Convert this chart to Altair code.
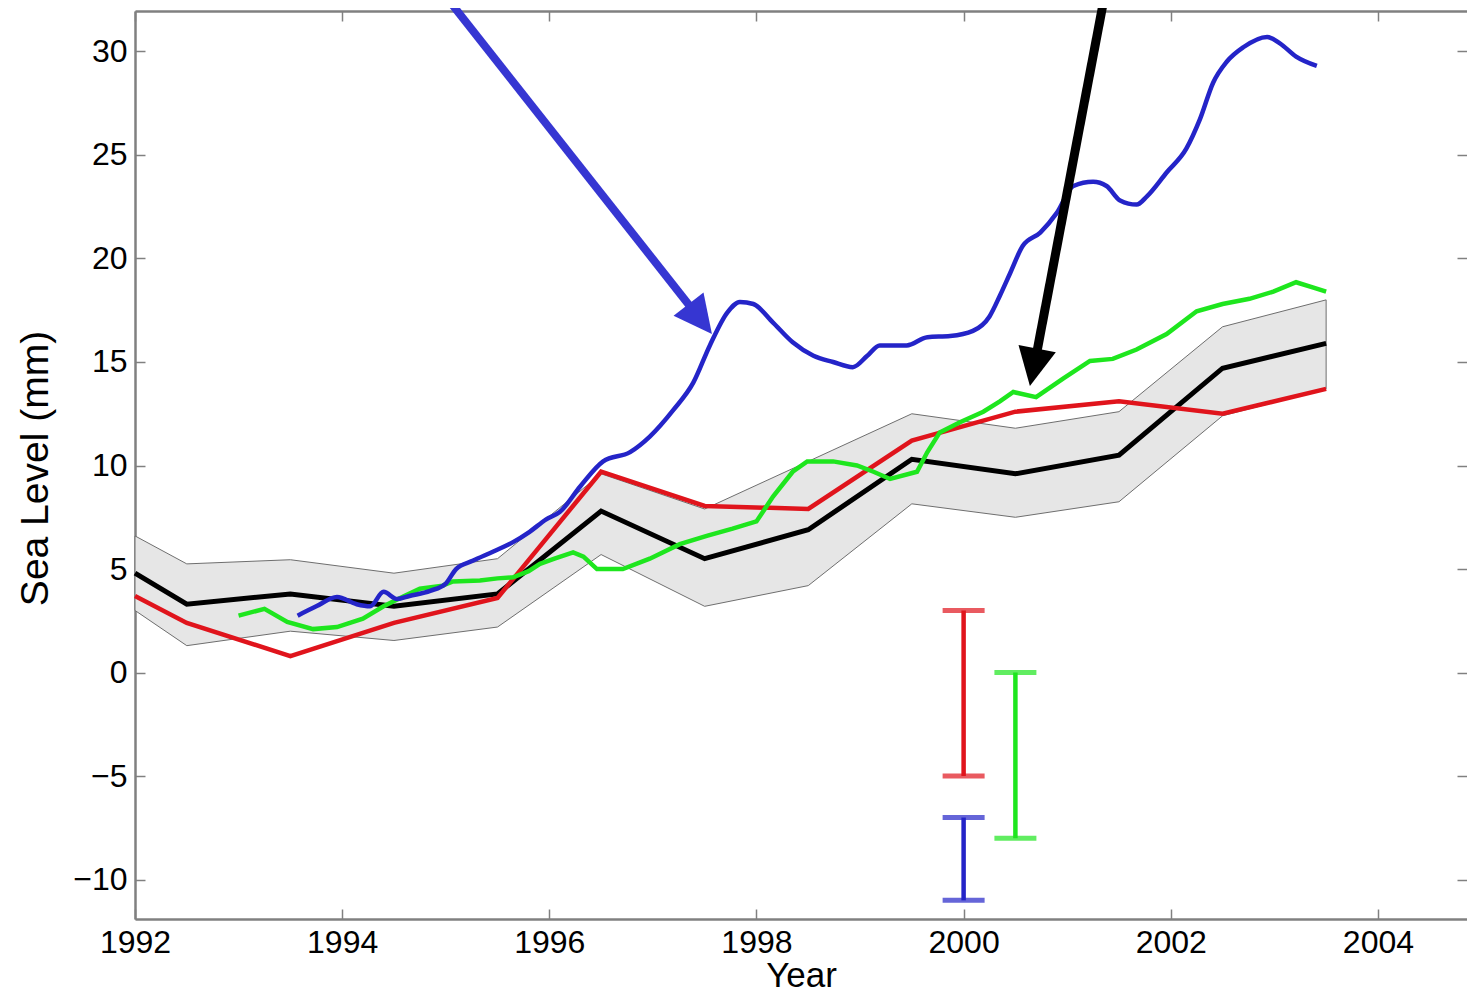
import altair as alt
import pandas as pd

# ---------------- data ----------------
band_years = [1992.0, 1992.5, 1993.5, 1994.5, 1995.5, 1996.5, 1997.5,
              1998.5, 1999.5, 2000.5, 2001.5, 2002.5, 2003.5]
black_values = [4.8, 3.3, 3.8, 3.2, 3.8, 7.8, 5.5, 6.9, 10.3, 9.6, 10.5, 14.7, 15.9]
band_upper = [6.6, 5.25, 5.45, 4.8, 5.5, 9.6, 7.9, 10.2, 12.5, 11.8, 12.6, 16.7, 18.0]
band_lower = [3.0, 1.3, 2.0, 1.55, 2.2, 5.7, 3.2, 4.2, 8.15, 7.5, 8.25, 12.4, 13.7]
red_values = [3.7, 2.4, 0.8, 2.4, 3.6, 9.7, 8.05, 7.9, 11.2, 12.6, 13.1, 12.5, 13.7]

green_years = [1993.0, 1993.25, 1993.47, 1993.72, 1993.95, 1994.2, 1994.4, 1994.6,
               1994.75, 1994.97, 1995.07, 1995.33, 1995.5, 1995.65, 1995.8, 1995.91,
               1996.05, 1996.23, 1996.33, 1996.46, 1996.71, 1996.97, 1997.26, 1997.52,
               1997.77, 1998.0, 1998.16, 1998.35, 1998.49, 1998.74, 1998.97, 1999.13,
               1999.29, 1999.55, 1999.65, 1999.77, 1999.97, 2000.19, 2000.35, 2000.48,
               2000.7, 2000.96, 2001.22, 2001.44, 2001.67, 2001.96, 2002.25, 2002.5,
               2002.76, 2002.99, 2003.21, 2003.37, 2003.5]
green_values = [2.75, 3.08, 2.45, 2.1, 2.2, 2.6, 3.2, 3.7,
                4.05, 4.2, 4.4, 4.45, 4.55, 4.6, 4.9, 5.25,
                5.5, 5.8, 5.6, 5.0, 5.0, 5.5, 6.2, 6.6,
                6.95, 7.3, 8.5, 9.7, 10.2, 10.2, 10.0, 9.7,
                9.35, 9.7, 10.65, 11.6, 12.1, 12.6, 13.1, 13.55,
                13.3, 14.2, 15.05, 15.15, 15.6, 16.35, 17.45, 17.8,
                18.05, 18.4, 18.85, 18.6, 18.4]

blue_years = [1993.57, 1993.75, 1993.95, 1994.14, 1994.27, 1994.4, 1994.53, 1994.65,
              1994.85, 1995.0, 1995.1, 1995.26, 1995.46, 1995.65, 1995.81, 1995.97,
              1996.1, 1996.3, 1996.52, 1996.78, 1996.97, 1997.2, 1997.39, 1997.55,
              1997.72, 1997.84, 1997.97, 1998.16, 1998.35, 1998.55, 1998.74, 1998.93,
              1999.07, 1999.19, 1999.45, 1999.65, 1999.87, 2000.09, 2000.25, 2000.35,
              2000.45, 2000.57, 2000.74, 2000.9, 2001.06, 2001.25, 2001.38, 2001.51,
              2001.67, 2001.77, 2001.96, 2002.15, 2002.28, 2002.41, 2002.54, 2002.7,
              2002.93, 2003.05, 2003.21, 2003.41]
blue_values = [2.75, 3.2, 3.65, 3.3, 3.2, 3.9, 3.55, 3.7,
               3.95, 4.3, 5.0, 5.4, 5.85, 6.3, 6.8, 7.4,
               7.75, 9.0, 10.2, 10.65, 11.4, 12.7, 14.0, 15.8,
               17.4, 17.9, 17.8, 16.9, 15.95, 15.3, 15.0, 14.75,
               15.3, 15.8, 15.8, 16.2, 16.25, 16.5, 17.2, 18.2,
               19.3, 20.6, 21.25, 22.2, 23.5, 23.7, 23.5, 22.8,
               22.6, 23.0, 24.15, 25.3, 26.7, 28.5, 29.5, 30.2,
               30.7, 30.4, 29.75, 29.3]

err_years = [2000.0, 2000.5, 2000.0]
err_low = [-5, -8, -11]
err_high = [3, 0, -7]
err_colors = ["#e0141c", "#1ee61e", "#2424c8"]

arrow_x_start = [1995.02, 2001.355]
arrow_y_start = [32.53, 32.53]
arrow_x_end = [1997.455, 2000.68]
arrow_y_end = [17.08, 14.76]
arrow_x_tip = [1997.57, 2000.64]
arrow_y_tip = [16.35, 13.84]
arrow_colors = ["#3636d2", "#000000"]
arrow_widths = [8, 9]
arrow_angles = [322, 11]

x_tick_values = [1992, 1994, 1996, 1998, 2000, 2002, 2004]
y_tick_values = [-10, -5, 0, 5, 10, 15, 20, 25, 30]

# ---------------- styling ----------------
FONT = "Liberation Sans"
FRAME = "#808080"
RED = "#e0141c"
GREEN = "#1ee61e"
BLUE = "#2424c8"

xs = alt.Scale(domain=[1992, 2004.86], nice=False, zero=False)
ys = alt.Scale(domain=[-11.9, 31.95], nice=False, zero=False)

band_df = pd.DataFrame({"year": band_years, "upper": band_upper, "lower": band_lower,
                        "black": black_values, "red": red_values})
green_df = pd.DataFrame({"year": green_years, "v": green_values})
blue_df = pd.DataFrame({"year": blue_years, "v": blue_values})
err_df = pd.DataFrame({"year": err_years, "lo": err_low, "hi": err_high, "c": err_colors})
cap_df = pd.DataFrame({"year": err_years + err_years, "v": err_low + err_high,
                       "c": err_colors + err_colors})
arrow_df = pd.DataFrame({"xs": arrow_x_start, "ys": arrow_y_start, "xe": arrow_x_end,
                         "ye": arrow_y_end, "xt": arrow_x_tip, "yt": arrow_y_tip,
                         "c": arrow_colors, "w": arrow_widths, "a": arrow_angles})

x_main = alt.Axis(orient="bottom", values=x_tick_values, format="d", ticks=False,
                  labelFont=FONT, labelFontSize=32, labelColor="black", labelPadding=8,
                  labelFlush=False, labelOverlap=False,
                  domain=True, domainColor=FRAME, domainWidth=2.5, grid=False,
                  title="Year", titleFont=FONT, titleFontSize=35, titleFontWeight="normal",
                  titleColor="black", titleY=56, titleBaseline="middle")
y_main = alt.Axis(orient="left", values=y_tick_values, ticks=False,
                  labelFont=FONT, labelFontSize=32, labelColor="black", labelPadding=8,
                  labelFlush=False, labelOverlap=False,
                  domain=True, domainColor=FRAME, domainWidth=2.5, grid=False,
                  title="Sea Level (mm)", titleFont=FONT, titleFontSize=39,
                  titleFontWeight="normal", titleColor="black", titleAngle=270,
                  titleX=-100, titleY=457, titleBaseline="middle", titleAlign="center")


def tick_axis(orient, values):
    return alt.Axis(orient=orient, offset=-10, values=values, labels=False, domain=False,
                    ticks=True, tickSize=10, tickColor=FRAME, tickWidth=1.5, grid=False,
                    title=None)


x_top_line = alt.Axis(orient="top", values=x_tick_values, labels=False, ticks=False,
                      domain=True, domainColor=FRAME, domainWidth=2.5, grid=False, title=None)

band = alt.Chart(band_df).mark_area(fill="#e6e6e6", stroke="#6e6e6e", strokeWidth=1).encode(
    x=alt.X("year:Q", scale=xs, axis=x_main),
    y=alt.Y("upper:Q", scale=ys, axis=y_main),
    y2="lower:Q",
)

black = alt.Chart(band_df).mark_line(color="black", strokeWidth=5).encode(
    x=alt.X("year:Q", scale=xs, axis=tick_axis("bottom", x_tick_values)),
    y=alt.Y("black:Q", scale=ys, axis=tick_axis("left", y_tick_values)),
)

red = alt.Chart(band_df).mark_line(color=RED, strokeWidth=4.5).encode(
    x=alt.X("year:Q", scale=xs, axis=tick_axis("top", x_tick_values)),
    y=alt.Y("red:Q", scale=ys, axis=tick_axis("right", y_tick_values)),
)

green = alt.Chart(green_df).mark_line(color=GREEN, strokeWidth=4.5).encode(
    x=alt.X("year:Q", scale=xs, axis=x_top_line),
    y=alt.Y("v:Q", scale=ys, axis=None),
)

blue = alt.Chart(blue_df).mark_line(color=BLUE, strokeWidth=4.5, interpolate="monotone").encode(
    x=alt.X("year:Q", scale=xs, axis=None),
    y=alt.Y("v:Q", scale=ys, axis=None),
)

err_rules = alt.Chart(err_df).mark_rule(strokeWidth=4.5).encode(
    x=alt.X("year:Q", scale=xs, axis=None),
    y=alt.Y("lo:Q", scale=ys, axis=None),
    y2="hi:Q",
    color=alt.Color("c:N", scale=None),
)

err_caps = alt.Chart(cap_df).mark_tick(orient="horizontal", size=42, thickness=5).encode(
    x=alt.X("year:Q", scale=xs, axis=None),
    y=alt.Y("v:Q", scale=ys, axis=None),
    color=alt.Color("c:N", scale=None),
)

arrow_shafts = alt.Chart(arrow_df).mark_rule(strokeCap="butt").encode(
    x=alt.X("xs:Q", scale=xs, axis=None),
    y=alt.Y("ys:Q", scale=ys, axis=None),
    x2="xe:Q",
    y2="ye:Q",
    color=alt.Color("c:N", scale=None),
    size=alt.Size("w:Q", scale=None),
)

arrow_heads = alt.Chart(arrow_df).mark_point(
    shape="M0,0L-0.5,-1L0.5,-1Z", filled=True, size=5776, opacity=1, strokeWidth=0
).encode(
    x=alt.X("xt:Q", scale=xs, axis=None),
    y=alt.Y("yt:Q", scale=ys, axis=None),
    color=alt.Color("c:N", scale=None),
    angle=alt.Angle("a:Q", scale=None),
)

chart = alt.layer(
    band, black, red, green, blue, err_rules, err_caps, arrow_shafts, arrow_heads
).resolve_axis(
    x="independent", y="independent"
).properties(
    width=1332,
    height=908,
    autosize=alt.AutoSizeParams(type="none"),
    padding={"left": 127, "top": 3, "right": 0, "bottom": 74},
).configure_view(
    stroke=None
).configure(
    background="white"
)

chart.save("out.html", embed_options={"renderer": "svg", "actions": False})
